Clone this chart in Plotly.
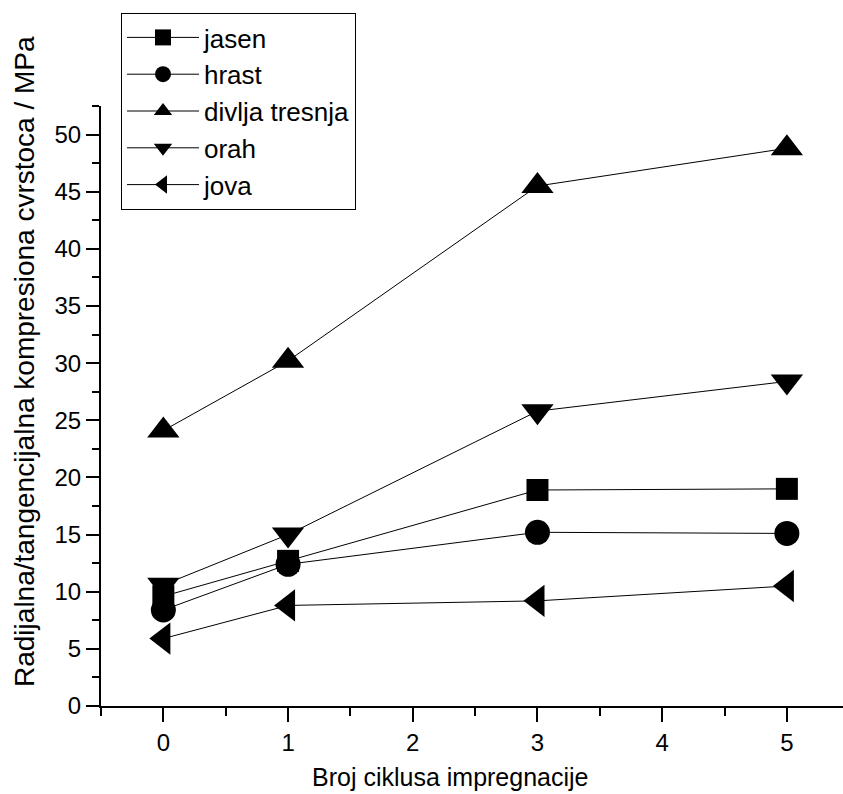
import plotly.graph_objects as go

cycles = [0, 1, 3, 5]
jasen = [9.6, 12.7, 18.9, 19.0]
hrast = [8.4, 12.4, 15.2, 15.1]
divlja_tresnja = [24.1, 30.2, 45.5, 48.8]
orah = [10.6, 15.0, 25.8, 28.4]
jova = [5.9, 8.8, 9.2, 10.5]

series = [
    ("jasen", jasen, "square", 22),
    ("hrast", hrast, "circle", 25),
    ("divlja tresnja", divlja_tresnja, "triangle-up", 28),
    ("orah", orah, "triangle-down", 28),
    ("jova", jova, "triangle-left", 28),
]

x_ticks = [0, 1, 2, 3, 4, 5]
y_ticks = [0, 5, 10, 15, 20, 25, 30, 35, 40, 45, 50]

FONT = "Arial, Liberation Sans, sans-serif"

fig = go.Figure()
for name, vals, sym, size in series:
    fig.add_trace(go.Scatter(
        x=cycles, y=vals, name=name, mode="lines+markers",
        line=dict(color="black", width=1),
        marker=dict(symbol=sym, size=size, color="black", line=dict(width=0)),
    ))

W, H = 843, 794
L, R, T, B = 101, 0, 106, 88
pw, ph = W - L - R, H - T - B

fig.update_layout(
    width=W, height=H,
    margin=dict(l=L, r=R, t=T, b=B, autoexpand=False),
    paper_bgcolor="white", plot_bgcolor="white",
    font=dict(family=FONT, color="black", size=24),
    showlegend=True,
    legend=dict(
        x=(121 - L) / pw, y=(H - B - 13) / ph, xanchor="left", yanchor="top",
        bordercolor="black", borderwidth=1, bgcolor="white",
        font=dict(family=FONT, size=26, color="black"),
        tracegroupgap=0, itemsizing="trace", itemwidth=72,
    ),
    xaxis=dict(
        range=[-0.5, 5.45], tickmode="array", tickvals=x_ticks,
        ticktext=[str(v) for v in x_ticks],
        showline=True, linecolor="black", linewidth=2, mirror=False,
        ticks="outside", ticklen=14, tickwidth=2, tickcolor="black",
        minor=dict(dtick=0.5, tick0=-0.5, ticks="outside", ticklen=8, tickwidth=2, tickcolor="black"),
        showgrid=False, zeroline=False,
        tickfont=dict(size=24),
    ),
    yaxis=dict(
        range=[0, 52.5], tickmode="array", tickvals=y_ticks,
        ticktext=[str(v) for v in y_ticks],
        showline=True, linecolor="black", linewidth=2, mirror=False,
        ticks="outside", ticklen=13, tickwidth=2, tickcolor="black",
        minor=dict(dtick=2.5, tick0=0, ticks="outside", ticklen=7, tickwidth=2, tickcolor="black"),
        showgrid=False, zeroline=False,
        tickfont=dict(size=24),
        ticklabelstandoff=0,
    ),
    annotations=[
        dict(text="Broj ciklusa impregnacije", xref="paper", yref="paper",
             x=(450 - L) / pw, y=(H - B - 777) / ph, xanchor="center", yanchor="middle",
             showarrow=False, font=dict(family=FONT, size=25, color="black")),
        dict(text="Radijalna/tangencijalna kompresiona cvrstoca / MPa", xref="paper", yref="paper",
             x=(24 - L) / pw, y=(H - B - 362) / ph, xanchor="center", yanchor="middle",
             textangle=-90, showarrow=False, font=dict(family=FONT, size=28, color="black")),
    ],
)

fig.write_html("out.html", config={"displayModeBar": False},
               post_script="document.body.style.margin='0';document.body.style.overflow='hidden';")
